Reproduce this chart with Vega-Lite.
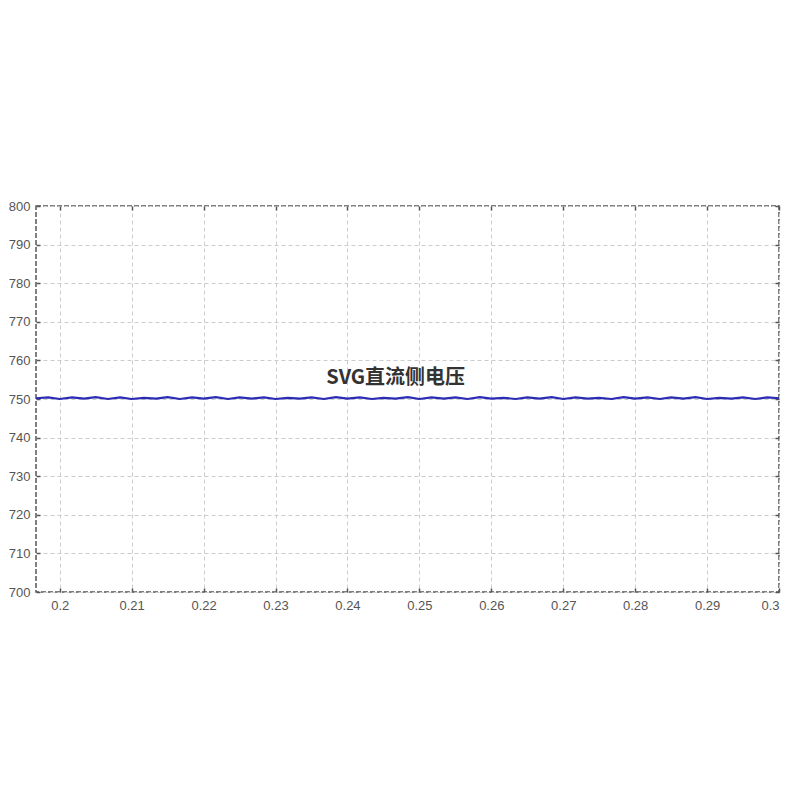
{
  "$schema": "https://vega.github.io/schema/vega-lite/v6.json",
  "width": 743,
  "height": 386,
  "autosize": {"type": "none"},
  "padding": {"left": 36, "top": 206, "right": 20, "bottom": 207},
  "background": "white",
  "config": {
    "view": {"stroke": "#555555", "strokeWidth": 1.5, "strokeDash": [5, 2]},
    "axis": {
      "labelFont": "Liberation Sans",
      "labelFontSize": 13,
      "labelColor": "#555555",
      "domain": false,
      "tickColor": "#555555",
      "tickSize": -4,
      "tickWidth": 1.5,
      "gridColor": "#cccccc",
      "gridDash": [4, 3],
      "gridWidth": 1,
      "title": null
    }
  },
  "datasets": {
    "signal": [
      {"t": 0.1967, "v": 750.2}, {"t": 0.1984, "v": 750.4}, {"t": 0.2000, "v": 750.0},
      {"t": 0.2017, "v": 750.4}, {"t": 0.2034, "v": 750.1}, {"t": 0.2050, "v": 750.5},
      {"t": 0.2067, "v": 750.0}, {"t": 0.2084, "v": 750.4}, {"t": 0.2100, "v": 750.0},
      {"t": 0.2117, "v": 750.3}, {"t": 0.2134, "v": 750.1}, {"t": 0.2150, "v": 750.5},
      {"t": 0.2167, "v": 750.0}, {"t": 0.2184, "v": 750.4}, {"t": 0.2200, "v": 750.1},
      {"t": 0.2217, "v": 750.5}, {"t": 0.2234, "v": 750.0}, {"t": 0.2250, "v": 750.4},
      {"t": 0.2267, "v": 750.1}, {"t": 0.2284, "v": 750.4}, {"t": 0.2300, "v": 750.0},
      {"t": 0.2317, "v": 750.3}, {"t": 0.2334, "v": 750.1}, {"t": 0.2350, "v": 750.4},
      {"t": 0.2367, "v": 750.0}, {"t": 0.2384, "v": 750.5}, {"t": 0.2400, "v": 750.1},
      {"t": 0.2417, "v": 750.4}, {"t": 0.2434, "v": 750.0}, {"t": 0.2450, "v": 750.3},
      {"t": 0.2467, "v": 750.1}, {"t": 0.2484, "v": 750.5}, {"t": 0.2500, "v": 750.0},
      {"t": 0.2517, "v": 750.4}, {"t": 0.2534, "v": 750.1}, {"t": 0.2550, "v": 750.4},
      {"t": 0.2567, "v": 750.0}, {"t": 0.2584, "v": 750.5}, {"t": 0.2600, "v": 750.1},
      {"t": 0.2617, "v": 750.3}, {"t": 0.2634, "v": 750.0}, {"t": 0.2650, "v": 750.4},
      {"t": 0.2667, "v": 750.1}, {"t": 0.2684, "v": 750.5}, {"t": 0.2700, "v": 750.0},
      {"t": 0.2717, "v": 750.4}, {"t": 0.2734, "v": 750.1}, {"t": 0.2750, "v": 750.3},
      {"t": 0.2767, "v": 750.0}, {"t": 0.2784, "v": 750.5}, {"t": 0.2800, "v": 750.1},
      {"t": 0.2817, "v": 750.4}, {"t": 0.2834, "v": 750.0}, {"t": 0.2850, "v": 750.4},
      {"t": 0.2867, "v": 750.1}, {"t": 0.2884, "v": 750.5}, {"t": 0.2900, "v": 750.0},
      {"t": 0.2917, "v": 750.3}, {"t": 0.2934, "v": 750.1}, {"t": 0.2950, "v": 750.4},
      {"t": 0.2967, "v": 750.0}, {"t": 0.2984, "v": 750.4}, {"t": 0.3000, "v": 750.2}
    ],
    "label": [{"t": 0.2467, "v": 755.4, "name": "SVG直流侧电压"}]
  },
  "layer": [
    {
      "data": {"name": "signal"},
      "mark": {"type": "line", "color": "#2b2bb5", "strokeWidth": 2.2},
      "encoding": {
        "x": {
          "field": "t", "type": "quantitative",
          "scale": {"domain": [0.1967, 0.3], "nice": false, "zero": false},
          "axis": {"orient": "bottom", "values": [0.2, 0.21, 0.22, 0.23, 0.24, 0.25, 0.26, 0.27, 0.28, 0.29, 0.3], "format": "~g", "labelPadding": 11}
        },
        "y": {
          "field": "v", "type": "quantitative",
          "scale": {"domain": [700, 800], "nice": false, "zero": false},
          "axis": {"orient": "left", "values": [700, 710, 720, 730, 740, 750, 760, 770, 780, 790, 800], "labelPadding": 10}
        }
      }
    },
    {
      "data": {"name": "label"},
      "mark": {"type": "text", "font": "Noto Sans CJK SC", "fontSize": 20, "fontWeight": "bold", "color": "#333333"},
      "encoding": {
        "x": {
          "field": "t", "type": "quantitative",
          "axis": {"orient": "top", "labels": false, "grid": false, "values": [0.2, 0.21, 0.22, 0.23, 0.24, 0.25, 0.26, 0.27, 0.28, 0.29, 0.3]}
        },
        "y": {
          "field": "v", "type": "quantitative",
          "axis": {"orient": "right", "labels": false, "grid": false, "values": [700, 710, 720, 730, 740, 750, 760, 770, 780, 790, 800]}
        },
        "text": {"field": "name"}
      }
    }
  ],
  "resolve": {"axis": {"x": "independent", "y": "independent"}}
}
